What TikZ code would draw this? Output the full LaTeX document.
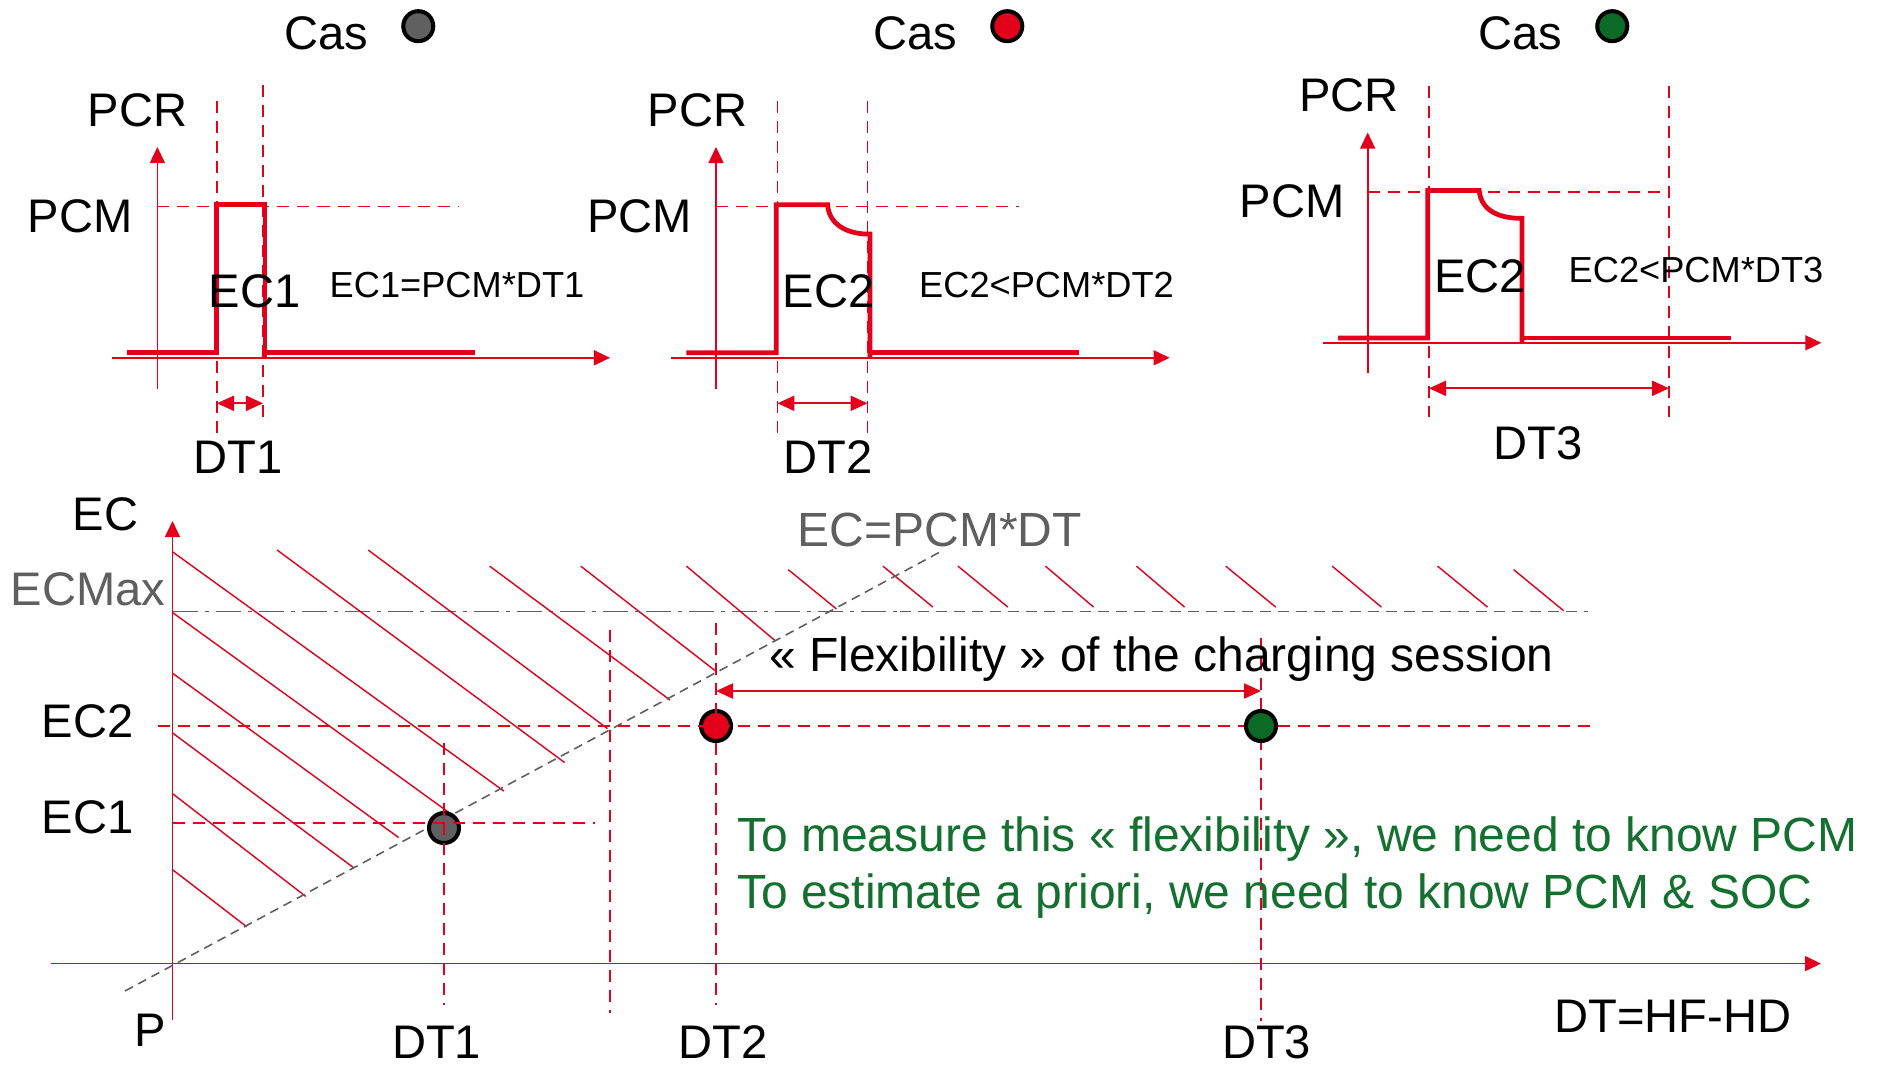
\documentclass[tikz,border=0pt]{standalone}
\usepackage{fontspec}
\setmainfont{Liberation Sans}
\usepackage{tikz}
\usetikzlibrary{positioning, arrows.meta}
\usepackage{xcolor}
\definecolor{flexred}{HTML}{E2001A}
\definecolor{flexgray}{HTML}{5F5F5F}
\definecolor{flexgreen}{HTML}{13702F}
\definecolor{dotgray}{HTML}{606060}
\definecolor{dotgreen}{HTML}{0C6A27}
\newcommand{\labfont}{\fontsize{13.4pt}{16pt}\selectfont}
\newcommand{\notefont}{\fontsize{13.65pt}{16pt}\selectfont}
\newcommand{\eqfont}{\fontsize{10.3pt}{12pt}\selectfont}

\begin{document}
\begin{tikzpicture}[x=0.01cm, y=-0.01cm, font=\labfont,
  lbl/.style={inner sep=0pt, anchor=base west},
  note/.style={lbl, font=\notefont},
  eqn/.style={lbl, font=\eqfont},
  axis/.style={flexred, line width=0.45pt, -{Triangle[length=0.16cm, width=0.15cm]}},
  guide/.style={flexred, line width=0.4pt, dash pattern=on 0.12cm off 0.08cm},
  pulse/.style={flexred, line width=1.35pt},
  span/.style={flexred, line width=0.6pt, {Triangle[length=0.17cm, width=0.15cm]}-{Triangle[length=0.17cm, width=0.15cm]}},
  hatch/.style={flexred, line width=0.4pt},
  refline/.style={flexgray, line width=0.45pt},
  dot/.style={circle, draw=black, line width=1.15pt, minimum size=0.3cm, inner sep=0pt}]

\useasboundingbox (0,0) rectangle (1879,1066);

% Case 1: full power during the whole stay
\node[lbl] (cas1) at (284,49.4) {Cas};
\node[dot, fill=dotgray, right=0.32cm of cas1, yshift=0.07cm] (dot1) {};
\draw[axis] (157.4,388.7) -- (157.4,147);
\draw[axis] (112,357.8) -- (610,357.8);
\draw[guide] (157.4,206.4) -- (458.7,206.4);
\draw[guide] (217,100.8) -- (217,433);
\draw[guide] (263,85) -- (263,417);
\draw[pulse] (126.5,352.7) -- (216.7,352.7) -- (216.7,204.8) -- (265,204.8) -- (265,358);
\draw[pulse] (265,352.7) -- (474.5,352.7);
\coordinate (a1) at (217,403.3);
\coordinate (b1) at (263,403.3);
\draw[span] (a1) -- (b1);
\node[lbl] (pcr1) at (87,126.5) {PCR};
\node[lbl] (pcm1) at (27,232.5) {PCM};
\node[lbl] (ec1) at (208,307.6) {EC1};
\node[eqn] (eq1) at (329,297.4) {EC1=PCM*DT1};
\node[lbl] (dt1) at (193,473.7) {DT1};

% Case 2: power drops before departure
\node[lbl] (cas2) at (873,49.4) {Cas};
\node[dot, fill=flexred, right=0.32cm of cas2, yshift=0.07cm] (dot2) {};
\draw[axis] (716,388.7) -- (716,147);
\draw[axis] (670.6,357.8) -- (1169.6,357.8);
\draw[guide] (716,206.4) -- (1018.6,206.4);
\draw[guide] (777.4,100.8) -- (777.4,433);
\draw[guide] (867.5,100.8) -- (867.5,433);
\draw[pulse] (686.4,352.7) -- (776.2,352.7) -- (776.2,204.8) -- (827.6,204.8)
  .. controls (829,224) and (846,233.5) .. (867,234.1) -- (870,234.1) -- (870,357);
\draw[pulse] (870,352.7) -- (1078.7,352.7);
\coordinate (a2) at (777.4,403.3);
\coordinate (b2) at (867.5,403.3);
\draw[span] (a2) -- (b2);
\node[lbl] (pcr2) at (647,126.5) {PCR};
\node[lbl] (pcm2) at (586.5,232.5) {PCM};
\node[lbl] (ec2) at (782,307.6) {EC2};
\node[eqn] (eq2) at (918.5,297.4) {EC2<PCM*DT2};
\node[lbl] (dt2) at (783,473.7) {DT2};

% Case 3: same energy, longer stay
\node[lbl] (cas3) at (1478,49.4) {Cas};
\node[dot, fill=dotgreen, right=0.32cm of cas3, yshift=0.07cm] (dot3) {};
\draw[axis] (1367.7,372.9) -- (1367.7,132.5);
\draw[axis] (1323,342.8) -- (1821.3,342.8);
\draw[guide] (1367.7,191.8) -- (1669,191.8);
\draw[guide] (1429,86.2) -- (1429,417.2);
\draw[guide] (1669,86.2) -- (1669,417.2);
\draw[pulse] (1338,338) -- (1427.8,338) -- (1427.8,190.6) -- (1479.2,190.6)
  .. controls (1481,210) and (1498,217.8) .. (1518.8,218.3) -- (1522,218.3) -- (1522,342);
\draw[pulse] (1522,338) -- (1731,338);
\coordinate (a3) at (1429,388.3);
\coordinate (b3) at (1669,388.3);
\draw[span] (a3) -- (b3);
\node[lbl] (pcr3) at (1298.5,111.5) {PCR};
\node[lbl] (pcm3) at (1239,217.5) {PCM};
\node[lbl] (ec3) at (1433.7,292.6) {EC2};
\node[eqn] (eq3) at (1568,282.7) {EC2<PCM*DT3};
\node[lbl] (dt3) at (1493,459.5) {DT3};

% Energy versus duration
\draw[axis] (172.5,1020) -- (172.5,521);
\draw[axis] (51,963.6) -- (1821,963.6);
\draw[refline, dash pattern=on 0.25cm off 0.07cm on 0.04cm off 0.07cm] (172.5,611.4) -- (900,611.4);
\draw[refline, dash pattern=on 0.11cm off 0.07cm] (900,611.4) -- (1587.5,611.4);
\foreach \xa/\ya/\xb/\yb in {172.5/869.6/246.8/926.8, 172.5/793.6/305.7/896.4,
    172.5/732.9/353.9/867.9, 172.5/673.2/398.6/837.5, 172.5/612.5/453.9/816.1,
    172.5/551.8/503.9/791.1, 277.1/550/564.6/762.5, 368.2/550/607.5/728.6,
    489.6/566.1/670/700, 580.7/566.1/716.1/671.4, 686.4/566.1/775.7/641.1,
    788.2/569.6/836.4/608.9, 882.9/566.1/932.9/607.1, 957.9/566.1/1007.9/607.1,
    1045.4/566.1/1093.6/607.1, 1136.4/566.1/1184.6/607.1, 1225.7/566.1/1275.7/607.1,
    1332.1/566.1/1381.4/607.1, 1437.5/566.1/1487.5/607.1, 1513.6/569.6/1563.6/610.7}
  \draw[hatch] (\xa,\ya) -- (\xb,\yb);
\draw[refline, dash pattern=on 0.09cm off 0.06cm] (125,991) -- (943.6,550);

% Sessions
\node[dot, fill=dotgray] (s1) at (444,828) {};
\node[dot, fill=flexred] (s2) at (716,726) {};
\draw[guide] (157.5,726) -- (1593,726);
\draw[guide] (172.5,823) -- (595,823);
\draw[guide] (444,743) -- (444,1005);
\draw[guide] (610,630) -- (610,1012.5);
\draw[guide] (716,623) -- (716,1005);
\draw[guide] (1261,637.5) -- (1261,1021);
\node[dot, fill=dotgreen] (s3) at (1261,726) {};
\coordinate (f2) at (716,691);
\coordinate (f3) at (1261,691);
\draw[span] (f2) -- (f3);

% Labels
\node[note, flexgray] (ecline) at (797,546.4) {EC=PCM*DT};
\node[lbl, flexgray] (ecmax) at (10,605.8) {ECMax};
\node[lbl] (eclab) at (72,530) {EC};
\node[lbl] (ec2lab) at (41,737.8) {EC2};
\node[lbl] (ec1lab) at (41,833) {EC1};
\node[lbl] (plab) at (134,1046.4) {P};
\node[lbl] (dt1lab) at (391.4,1058) {DT1};
\node[lbl] (dt2lab) at (677.5,1058) {DT2};
\node[lbl] (dt3lab) at (1221.4,1058) {DT3};
\node[lbl] (dtdef) at (1553.6,1032) {DT=HF-HD};
\node[note] (flex) at (768.6,671.4) {« Flexibility » of the charging session};
\node[note, flexgreen] (need1) at (736.4,851.8) {To measure this « flexibility », we need to know PCM};
\node[note, flexgreen] (need2) at (736.4,908.9) {To estimate a priori, we need to know PCM \& SOC};

\end{tikzpicture}
\end{document}
